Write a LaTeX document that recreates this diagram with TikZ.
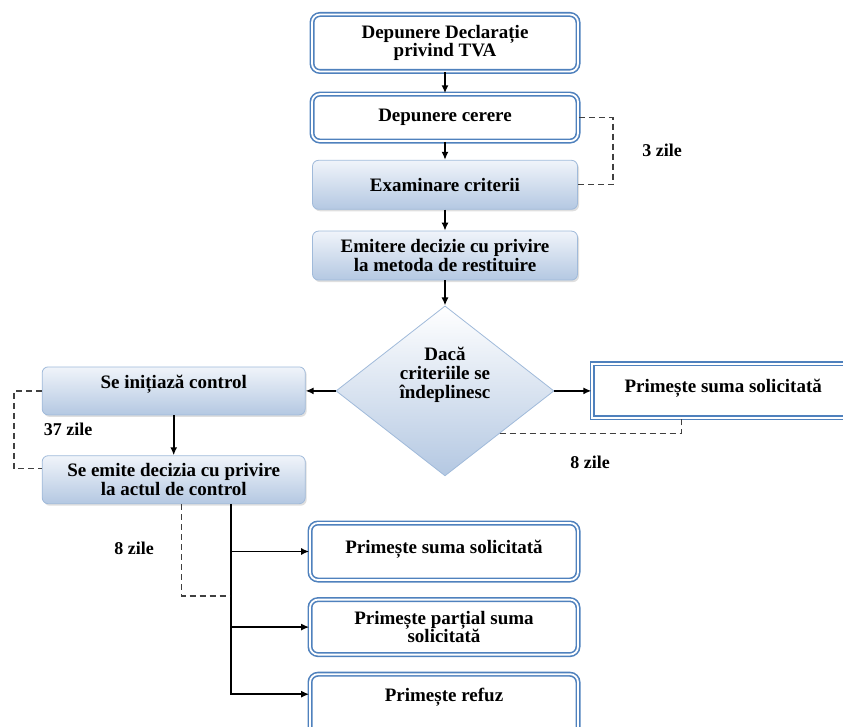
\documentclass[tikz,border=0pt]{standalone}
\usepackage{fontspec}
\setmainfont{Liberation Serif}
\usetikzlibrary{shapes.geometric, arrows.meta, positioning, shadows}
\definecolor{boxblue}{RGB}{79,129,189}
\definecolor{paleblue}{RGB}{240,244,250}
\definecolor{midblue}{RGB}{180,200,226}
\definecolor{edgeblue}{RGB}{160,186,218}

\begin{document}
\begin{tikzpicture}[x=1pt, y=-1pt,
        node distance=20pt,
        font=\fontsize{19}{18.5}\selectfont\bfseries,
        dblbox/.style={rectangle, draw=boxblue, line width=1.6pt, double=white, double distance=1.8pt, rounded corners=#1, align=center, inner sep=2pt},
        dblbox/.default=8pt,
        gradbox/.style={rectangle, draw=edgeblue, line width=0.8pt, top color=paleblue, bottom color=midblue, rounded corners=6pt, drop shadow={opacity=0.25, shadow xshift=1.5pt, shadow yshift=-2pt}, align=center, inner sep=2pt},
        decision/.style={diamond, draw=edgeblue, line width=0.8pt, top color=white, bottom color=midblue, aspect=1.28, minimum width=218pt, minimum height=170pt, inner sep=0pt, align=center},
        arrow/.style={-{Latex[length=8pt, width=7pt]}, line width=1.6pt, black},
        dashline/.style={dash pattern=on 6pt off 4pt, line width=1.4pt, black!75},
        note/.style={font=\fontsize{18}{20}\selectfont\bfseries}
    ]
        \useasboundingbox (0,0) rectangle (843,727);

        % Main column
        \node[dblbox, minimum width=266pt, minimum height=57pt] (decl) at (445,43) {Depunere Declarație\\privind TVA};
        \node[dblbox, minimum width=266pt, minimum height=47pt, below=21pt of decl] (cerere) {Depunere cerere};
        \node[gradbox, minimum width=265pt, minimum height=49pt, below=18pt of cerere] (exam) {Examinare criterii};
        \node[gradbox, minimum width=265pt, minimum height=49pt, below=21pt of exam] (metoda) {Emitere decizie cu privire\\la metoda de restituire};
        \node[decision, below=25pt of metoda] (dec) {\raisebox{11pt}[0pt][0pt]{\begin{tabular}{@{}c@{}}Dacă\\criteriile se\\îndeplinesc\end{tabular}}};

        % Left branch
        \node[gradbox, minimum width=263pt, minimum height=48pt, text depth=18pt, left=30pt of dec] (ctrl) {Se inițiază control};
        \node[gradbox, minimum width=263pt, minimum height=48pt, below=40pt of ctrl] (ctrldec) {Se emite decizia cu privire\\la actul de control};

        % Right branch
        \node[dblbox=0pt, minimum width=262pt, minimum height=54pt, text depth=10pt, right=37pt of dec] (suma) {Primește suma solicitată};

        % Results of control
        \node[dblbox, minimum width=268pt, minimum height=57pt, text depth=10pt] (sumactrl) at (444,551.5) {Primește suma solicitată};
        \node[dblbox, minimum width=268pt, minimum height=55pt, below=18pt of sumactrl] (partial) {Primește parțial suma\\solicitată};
        \node[dblbox, minimum width=268pt, minimum height=64pt, text depth=22pt, below=18pt of partial] (refuz) {Primește refuz};

        % Arrows
        \draw[arrow] (decl) -- (cerere);
        \draw[arrow] (cerere) -- (exam);
        \draw[arrow] (exam) -- (metoda);
        \draw[arrow] (metoda) -- (dec);
        \draw[arrow] (dec) -- (ctrl);
        \draw[arrow] (dec) -- (suma);
        \draw[arrow] (ctrl) -- (ctrldec);

        \coordinate (trunk) at ([xshift=57pt]ctrldec.south);
        \draw[arrow] (trunk) |- (sumactrl.west);
        \draw[arrow] (trunk) |- (partial.west);
        \draw[arrow] (trunk) |- ([yshift=12pt]refuz.west);

        % Time limits
        \draw[dashline] (cerere.east) -- ++(34,0) |- (exam.east);
        \draw[dashline] (ctrl.west) -- ++(-28,0) |- ([yshift=11pt]ctrldec.west);
        \draw[dashline] (dec.south east) -| ([xshift=90pt]suma.south west);
        \draw[dashline] ([xshift=8pt]ctrldec.south) -- ++(0,92) -- ++(48,0);

        \node[note] (days3) at (662,150) {3 zile};
        \node[note] (days37) at (68,429) {37 zile};
        \node[note] (days8a) at (590,462) {8 zile};
        \node[note] (days8b) at (134,548) {8 zile};
    \end{tikzpicture}
\end{document}
